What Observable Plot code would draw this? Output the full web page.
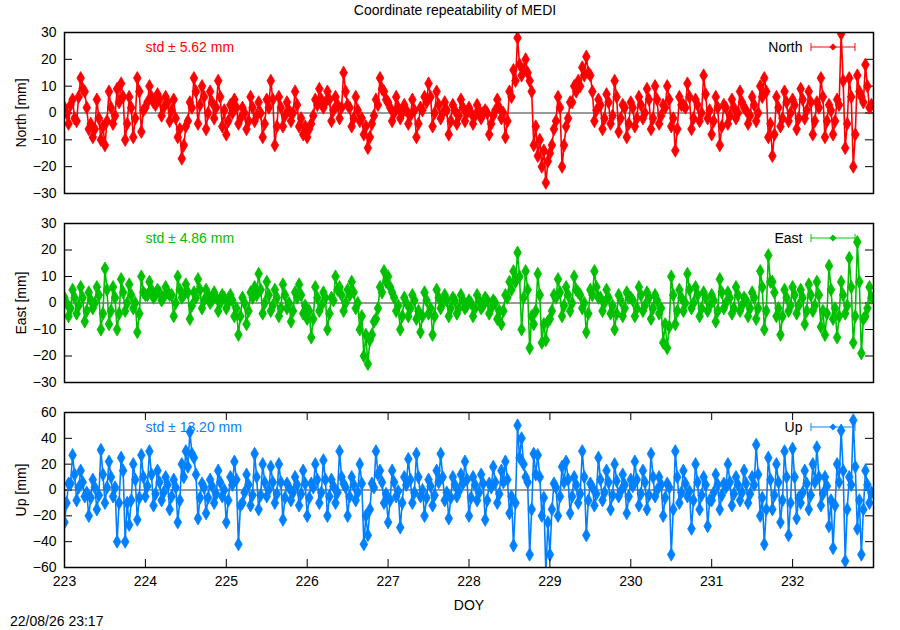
<!DOCTYPE html>
<html><head><meta charset="utf-8">
<script src="https://cdn.jsdelivr.net/npm/d3@7"></script>
<script src="https://cdn.jsdelivr.net/npm/@observablehq/plot@0.6"></script>
<style>
body{margin:0;background:#fff;font-family:"Liberation Sans",Arial,sans-serif;}
#wrap{position:relative;width:900px;height:630px;overflow:hidden;background:#fff}
.abs{position:absolute;white-space:nowrap;font-size:14px;color:#000}
</style></head><body><div id="wrap"></div><script>
// ---- data ----
const chartTitle = "Coordinate repeatability of MEDI";
const stamp = "22/08/26 23:17";
const startDoy = 223;      // first epoch (DOY)
const stepDays = 0.05;     // sampling step of each array below; "core" arrays are offset by half a step
const xDomain = [223, 233];
const xTicks = [223, 224, 225, 226, 227, 228, 229, 230, 231, 232];

// excursions (peaks / dips)
const north = [
  2,-4,5,-3,13,8,-6,-9,5,-10,
  -12,8,-4,9,11,-10,6,-9,13,-7,
  2,10,4,7,-1,6,-3,5,-9,-17,
  -5,4,13,-4,10,-6,8,-2,12,-5,
  -8,3,5,-4,2,-6,6,-3,4,-9,
  5,12,-12,6,-5,4,-3,8,-5,-8,
  -9,-4,5,9,2,8,-3,6,-2,15,
  3,-5,6,-3,-8,-13,-4,5,13,8,
  4,-3,6,-2,3,-4,5,-9,2,6,
  11,-5,8,-2,4,-8,3,-4,5,-3,
  2,-4,3,-2,1,-8,-1,5,-2,-9,
  8,16,28,14,20,12,-12,-16,-20,-26,
  -15,-6,6,-20,-5,4,10,12,17,21,
  14,-3,5,-6,7,-4,12,-7,3,-9,
  4,-5,6,-2,9,-6,10,-4,3,10,
  -5,-14,6,3,11,-6,5,-3,14,-2,
  -8,6,-12,3,-4,5,-2,8,2,-4,
  6,-3,10,13,-9,-16,6,-5,8,-3,
  5,-6,9,-2,8,-8,4,13,-9,3,
  -8,5,29.5,-13,13,-20,14,6,18,2
];
// band centre, half a step later
const northCore = [
  0,3,-2,6,9,2,-4,-6,-2,-5,
  -3,2,-1,4,6,-4,2,-2,8,1,
  4,6,3,5,2,4,1,-2,-6,-12,
  -3,2,8,3,6,0,4,2,6,1,
  -3,0,2,-2,0,-3,2,-1,0,-4,
  2,5,-5,2,-1,1,0,3,-2,-5,
  -6,-1,3,5,4,5,1,3,2,8,
  2,-2,1,-2,-5,-9,-1,3,9,5,
  2,0,2,0,1,-1,1,-4,1,4,
  6,0,3,0,1,-3,1,-1,2,0,
  0,-1,1,0,0,-4,1,2,0,-3,
  6,12,18,16,15,8,-5,-10,-14,-18,
  -12,-3,2,-12,-2,4,8,10,14,15,
  8,1,3,-2,4,-1,6,-2,2,-4,
  2,-2,3,0,5,-2,5,-1,2,5,
  -2,-6,3,2,6,-2,3,0,7,1,
  -3,2,-5,2,-1,2,0,4,1,-1,
  3,0,6,8,-4,-8,2,-2,4,0,
  3,-2,5,1,4,-3,2,6,-3,1,
  -3,3,12,-4,6,-8,8,4,10,3
];
const east = [
  2,-5,5,-4,6,-7,4,-2,6,-10,
  13,-8,6,-10,9,-3,7,-2,-11,10,
  3,8,2,5,1,6,3,-5,10,2,
  7,-6,4,9,-2,5,0,4,-3,3,
  -2,3,-5,-12,2,-8,4,6,11,-4,
  8,-3,5,-5,7,-2,-7,4,7,-4,
  -6,-13,6,-3,4,-10,2,10,6,-3,
  5,8,-2,-10,-20,-23,-12,-6,6,12,
  10,4,-3,-10,2,-5,3,-6,-11,4,
  -4,-12,5,-2,3,-5,2,-4,3,-2,
  1,-5,3,-2,2,-4,1,-6,-8,3,
  8,12,19,-10,12,-17,-8,11,-15,-14,
  -6,3,9,-5,6,-3,10,4,-2,-11,
  5,12,2,-3,5,-4,-10,3,-5,4,
  2,-5,6,-3,4,-6,3,-4,-15,-17,
  10,-8,5,-3,11,-2,6,-5,4,-3,
  3,-7,9,-2,4,-4,6,-3,2,-5,
  4,-6,12,-10,18,8,-5,-12,5,-3,
  6,-4,5,-8,7,-3,8,-9,-12,14,
  -6,-13,8,-4,17,-15,23,-19,-5,6
];
const eastCore = [
  0,-2,2,-1,2,-3,1,0,3,-4,
  5,-3,2,-4,4,0,3,0,-4,4,
  3,5,3,4,2,4,3,0,5,3,
  4,-1,2,5,1,3,1,2,0,2,
  0,1,-2,-5,0,-3,2,3,5,0,
  3,-1,2,-2,3,0,-3,2,3,-1,
  -3,-6,2,-1,2,-4,1,5,3,0,
  3,4,0,-5,-12,-14,-7,-2,4,8,
  6,2,-1,-5,0,-2,1,-3,-5,1,
  -2,-5,2,0,1,-2,1,-2,1,-1,
  0,-2,1,-1,1,-2,0,-3,-3,2,
  5,8,10,2,5,-5,-3,3,-8,-7,
  -3,2,4,-1,3,0,5,3,0,-4,
  3,6,2,0,2,-1,-4,1,-2,2,
  1,-2,3,-1,2,-2,1,-2,-8,-9,
  3,-3,2,0,5,0,3,-2,2,-1,
  1,-3,4,0,2,-2,3,-1,1,-2,
  2,-2,6,-3,8,4,-2,-5,2,-1,
  3,-1,2,-3,3,-1,3,-3,-4,5,
  -2,-5,3,-1,6,-5,8,-6,-2,2
];
const up = [
  -25,5,27,-8,15,-5,-20,8,-15,31,
  -10,22,-5,-40,25,-40,-27,20,-23,27,
  -5,30,-12,15,-8,10,-15,8,-25,20,
  30,45,25,-22,5,-18,8,-10,15,-5,
  -25,10,22,-42,-10,12,-12,28,-15,20,
  -5,18,-10,20,-23,5,-8,10,-12,15,
  -20,5,20,-10,23,-20,8,-10,30,5,
  -20,10,-8,20,-42,-35,5,30,15,-10,
  -25,15,-5,-29,10,24,-10,28,-5,-20,
  8,-12,15,28,-8,-22,10,-5,12,22,
  -20,10,-8,12,-23,5,18,-10,15,22,
  -18,-43,50,40,10,-50,28,27,-20,-64,
  -50,5,-20,18,22,-18,10,-10,30,-35,
  5,-12,25,-8,15,-15,20,-5,12,-18,
  8,22,-12,15,-15,28,-5,10,-20,5,
  -50,30,-10,15,-5,-30,20,-15,10,-28,
  -8,12,-15,5,20,-12,10,-8,15,-10,
  10,35,-20,-42,25,-15,20,-25,30,-35,
  32,-22,-10,15,-15,20,33,-12,10,-28,
  -45,20,46,-55,10,54,-30,-50,15,-10
];
const upCore = [
  -10,5,12,2,6,-2,-6,2,-4,12,
  2,10,2,-10,15,-10,-8,8,-6,10,
  3,12,-3,6,-2,4,-5,2,-8,10,
  18,28,12,-6,2,-6,3,-3,6,0,
  -8,4,8,-12,-2,4,-4,10,-4,6,
  0,6,-3,6,-6,2,-2,4,-3,5,
  -6,2,8,-2,8,-5,3,-2,10,2,
  -5,4,-2,5,-20,-15,2,12,6,-3,
  -8,6,-1,-10,4,8,-2,10,0,-6,
  3,-4,6,10,-2,-6,4,-1,5,8,
  -6,4,-2,5,-8,2,6,-3,6,8,
  -5,-10,25,20,6,-15,12,10,-6,-25,
  -15,2,-5,6,8,-5,4,-3,10,-8,
  2,-3,8,-2,6,-4,7,-1,4,-5,
  3,8,-3,6,-4,10,0,4,-6,2,
  -15,10,-2,5,-1,-8,6,-4,4,-8,
  -2,4,-4,2,6,-3,4,-2,5,-3,
  4,12,-6,-15,8,-4,6,-8,10,-10,
  10,-6,-2,5,-4,6,10,-3,3,-8,
  -12,6,15,-15,4,18,-8,-15,4,-2
];

const panels = [
  {name:"North", label:"North [mm]", std:"std \u00b1 5.62 mm", values:north, core:northCore, color:"#ff0000",
   yDomain:[-30,30], yTicks:[-30,-20,-10,0,10,20,30], top:0, height:200, mt:32, mb:7, xAxis:false},
  {name:"East", label:"East [mm]", std:"std \u00b1 4.86 mm", values:east, core:eastCore, color:"#00c000",
   yDomain:[-30,30], yTicks:[-30,-20,-10,0,10,20,30], top:200, height:190, mt:23, mb:8, xAxis:false},
  {name:"Up", label:"Up [mm]", std:"std \u00b1 13.20 mm", values:up, core:upCore, color:"#0080ff",
   yDomain:[-60,60], yTicks:[-60,-40,-20,0,20,40,60], top:390, height:240, mt:22, mb:63, xAxis:true}
];

const W = 900, ML = 64, MR = 27;
const wrap = document.getElementById("wrap");

function makePanel(cfg){
  const data = [];
  cfg.values.forEach((v,i)=>{
    data.push({t: startDoy + i*stepDays, v});
    data.push({t: startDoy + (i+0.5)*stepDays, v: cfg.core[i]});
  });
  const [y0,y1] = cfg.yDomain;
  const innerW = W - ML - MR;
  const innerH = cfg.height - cfg.mt - cfg.mb;
  const tlx = (xDomain[1]-xDomain[0]) * 8 / innerW;
  const tly = (y1-y0) * 8 / innerH;
  const marks = [
    Plot.ruleY(cfg.yTicks, {x1: xDomain[0], x2: xDomain[0]+tlx, stroke:"#000"}),
    Plot.ruleY(cfg.yTicks, {x1: xDomain[1]-tlx, x2: xDomain[1], stroke:"#000"}),
    Plot.ruleY([0], {stroke:"#000", strokeWidth:0.8}),
    Plot.line(data, {x:"t", y:"v", stroke:cfg.color, strokeWidth:1.6, clip:true}),
    Plot.dot(data, {x:"t", y:"v", symbol:"diamond", r:4, fill:cfg.color, stroke:cfg.color, strokeWidth:0.8, clip:true}),
    Plot.axisY(cfg.yTicks, {tickSize:0, tickPadding:8, fontSize:14, label:cfg.label, labelAnchor:"center", labelArrow:"none", labelOffset:48}),
    Plot.text([cfg.std], {frameAnchor:"top-left", dx:81, dy:15, text:d=>d, fill:cfg.color, fontSize:14, lineAnchor:"middle", textAnchor:"start"}),
    Plot.text([cfg.name], {frameAnchor:"top-right", dx:-71, dy:15, text:d=>d, fill:"#000", fontSize:14, lineAnchor:"middle", textAnchor:"end"})
  ];
  if (cfg.xAxis){
    marks.push(
      Plot.ruleX(xTicks, {y1:y0, y2:y0+tly, stroke:"#000"}),
      Plot.ruleX(xTicks, {y1:y1-tly, y2:y1, stroke:"#000"}),
      Plot.axisX(xTicks, {tickSize:0, tickPadding:9, fontSize:14, tickFormat:d=>String(d), label:"DOY", labelAnchor:"center", labelArrow:"none", labelOffset:42})
    );
  }
  marks.push(Plot.frame({stroke:"#000", strokeWidth:1.5}));
  const svg = Plot.plot({
    width:W, height:cfg.height, marginLeft:ML, marginRight:MR, marginTop:cfg.mt, marginBottom:cfg.mb,
    x:{domain:xDomain, axis: cfg.xAxis ? undefined : null},
    y:{domain:cfg.yDomain},
    style:{fontFamily:"'Liberation Sans', Arial, sans-serif", fontSize:"14px", background:"transparent", overflow:"visible", color:"#000"},
    marks
  });
  svg.style.position = "absolute";
  svg.style.left = "0px";
  svg.style.top = cfg.top + "px";
  wrap.appendChild(svg);

  // legend sample (error bar with point)
  const ly = cfg.top + cfg.mt + 15;
  const ns = "http://www.w3.org/2000/svg";
  const s = document.createElementNS(ns, "svg");
  s.setAttribute("width", 60); s.setAttribute("height", 14);
  s.style.position = "absolute"; s.style.left = "806px"; s.style.top = (ly-7) + "px";
  s.innerHTML = `<g stroke="${cfg.color}" stroke-opacity="0.65" stroke-width="1.5">
     <line x1="5" y1="7" x2="49" y2="7"/><line x1="5" y1="3" x2="5" y2="11"/><line x1="49" y1="3" x2="49" y2="11"/></g>
     <path d="M27,3.5L30.5,7L27,10.5L23.5,7Z" fill="${cfg.color}"/>`;
  wrap.appendChild(s);
}
panels.forEach(makePanel);

const t = document.createElement("div");
t.className = "abs"; t.textContent = chartTitle;
t.style.left = "455px"; t.style.top = "2px"; t.style.transform = "translateX(-50%)";
wrap.appendChild(t);
const st = document.createElement("div");
st.className = "abs"; st.textContent = stamp;
st.style.left = "10px"; st.style.top = "613px";
wrap.appendChild(st);
</script></body></html>
